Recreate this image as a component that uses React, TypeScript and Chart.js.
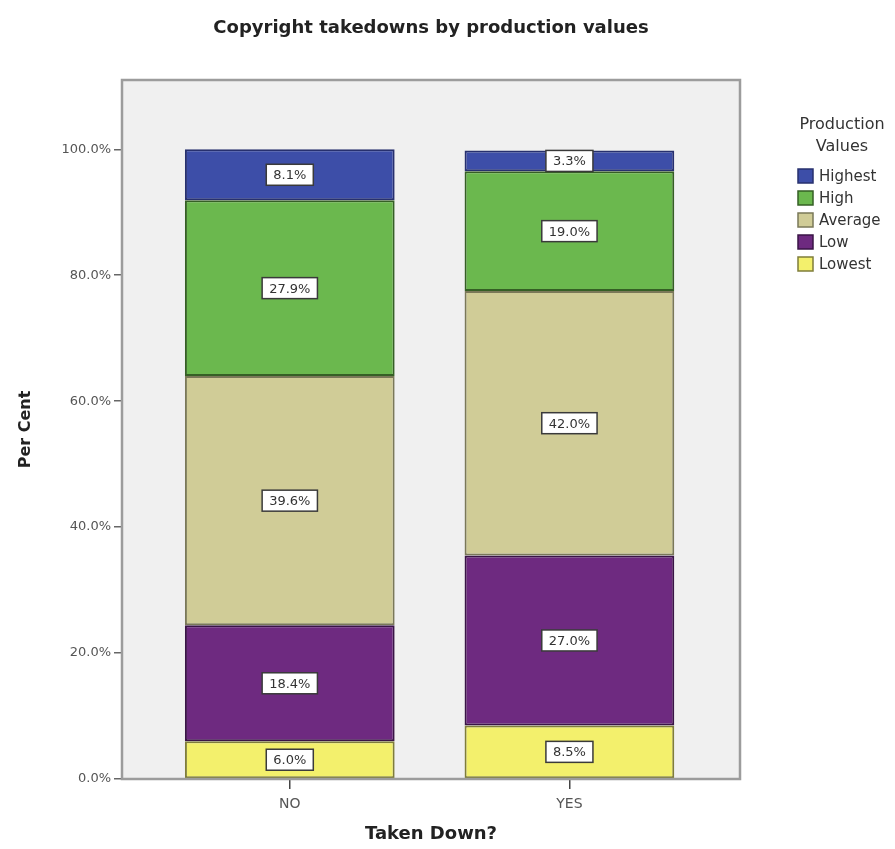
import React, { useEffect, useRef } from "react";
import { Chart, registerables } from "chart.js";

Chart.register(...registerables);

const categories = ["NO", "YES"];
const seriesNames = ["Lowest", "Low", "Average", "High", "Highest"];
const lowest = [6.0, 8.5];
const low = [18.4, 27.0];
const average = [39.6, 42.0];
const high = [27.9, 19.0];
const highest = [8.1, 3.3];
const yTicks = [0, 20, 40, 60, 80, 100];

const seriesValues = [lowest, low, average, high, highest];
const fills = ["#f3f06c", "#6e2a80", "#d0cc97", "#6bb84e", "#3d4ea8"];
const edges = ["#7f7d3a", "#3a1446", "#7a7858", "#355f25", "#27306e"];

const FONT = "'DejaVu Sans', Verdana, sans-serif";

const decorPlugin = {
  id: "decor",
  beforeDatasetsDraw(chart: any) {
    const { ctx, chartArea: a } = chart;
    ctx.save();
    ctx.fillStyle = "#f0f0f0";
    ctx.fillRect(a.left, a.top, a.right - a.left, a.bottom - a.top);
    ctx.restore();
  },
  afterDatasetsDraw(chart: any) {
    const { ctx, chartArea: a } = chart;
    ctx.save();
    ctx.strokeStyle = "#9c9c9c";
    ctx.lineWidth = 2.5;
    ctx.strokeRect(a.left, a.top, a.right - a.left, a.bottom - a.top);
    ctx.font = `13px ${FONT}`;
    ctx.textAlign = "center";
    ctx.textBaseline = "middle";
    chart.data.datasets.forEach((ds: any, di: number) => {
      const meta = chart.getDatasetMeta(di);
      meta.data.forEach((bar: any, i: number) => {
        const v = ds.data[i].y;
        const txt = v.toFixed(1) + "%";
        const cx = bar.x;
        const cy = (bar.y + bar.base) / 2;
        const w = ctx.measureText(txt).width + 14;
        const h = 21;
        ctx.fillStyle = "#ffffff";
        ctx.fillRect(cx - w / 2, cy - h / 2, w, h);
        ctx.strokeStyle = "#3a3a3a";
        ctx.lineWidth = 1.5;
        ctx.strokeRect(cx - w / 2, cy - h / 2, w, h);
        ctx.fillStyle = "#333333";
        ctx.fillText(txt, cx, cy + 1);
      });
    });
    ctx.restore();
  },
  afterDraw(chart: any) {
    const { ctx, chartArea: a } = chart;
    ctx.save();
    ctx.fillStyle = "#222";
    ctx.font = `bold 18px ${FONT}`;
    ctx.textAlign = "center";
    ctx.textBaseline = "middle";
    ctx.fillText("Copyright takedowns by production values", (a.left + a.right) / 2, 20);
    ctx.fillStyle = "#333";
    ctx.font = `16px ${FONT}`;
    ctx.fillText("Production", 834, 117);
    ctx.fillText("Values", 834, 139);
    ctx.font = `15px ${FONT}`;
    ctx.textAlign = "left";
    const order = [4, 3, 2, 1, 0];
    order.forEach((di, k) => {
      const y = 168 + k * 22;
      ctx.fillStyle = fills[di];
      ctx.fillRect(790, y - 7, 15, 14);
      ctx.strokeStyle = edges[di];
      ctx.lineWidth = 1.5;
      ctx.strokeRect(790, y - 7, 15, 14);
      ctx.fillStyle = "#333";
      ctx.fillText(seriesNames[di], 811, y + 1);
    });
    ctx.restore();
  },
};

export default function App() {
  const ref = useRef<HTMLCanvasElement>(null);
  useEffect(() => {
    if (!ref.current) return;
    const chart = new Chart(ref.current, {
      type: "bar",
      data: {
        datasets: seriesNames.map((name, di) => ({
          label: name,
          data: seriesValues[di].map((v, i) => ({ x: i, y: v })),
          backgroundColor: fills[di],
          borderColor: edges[di],
          borderWidth: 2,
          borderSkipped: false,
          barPercentage: 0.75,
          categoryPercentage: 1,
          grouped: false,
          stack: "all",
        })),
      },
      options: {
        responsive: true,
        maintainAspectRatio: false,
        animation: false,
        layout: { padding: { left: 0, right: 147, top: 72, bottom: 0 } },
        plugins: {
          legend: { display: false },
          title: { display: false },
          tooltip: { enabled: false },
        },
        scales: {
          x: {
            type: "linear",
            stacked: true,
            offset: false,
            min: -0.6,
            max: 1.61,
            afterBuildTicks: (s: any) => {
              s.ticks = categories.map((_, i) => ({ value: i }));
            },
            afterFit: (s: any) => {
              s.height = 70;
            },
            ticks: {
              callback: (v: any) => categories[v] ?? "",
              font: { family: FONT, size: 14 },
              color: "#555",
              padding: 7,
            },
            grid: {
              offset: false,
              drawOnChartArea: false,
              drawTicks: true,
              tickLength: 10,
              color: "#444",
              lineWidth: 1.5,
            },
            border: { display: false },
            title: {
              display: true,
              text: "Taken Down?",
              font: { family: FONT, size: 18, weight: "bold" },
              color: "#222",
              padding: { top: 0, bottom: 4 },
            },
          },
          y: {
            stacked: true,
            min: 0,
            max: 111,
            afterBuildTicks: (s: any) => {
              s.ticks = yTicks.map((v) => ({ value: v }));
            },
            afterFit: (s: any) => {
              s.width = 114;
            },
            ticks: {
              callback: (v: any) => Number(v).toFixed(1) + "%",
              font: { family: FONT, size: 13 },
              color: "#555",
              padding: 3,
            },
            grid: {
              drawOnChartArea: false,
              drawTicks: true,
              tickLength: 8,
              color: "#666",
              lineWidth: 1.5,
            },
            border: { display: false },
            title: {
              display: true,
              text: "Per Cent",
              font: { family: FONT, size: 16, weight: "bold" },
              color: "#222",
              padding: { top: 8, bottom: 0 },
            },
          },
        },
      },
      plugins: [decorPlugin],
    });
    return () => chart.destroy();
  }, []);
  return (
    <div style={{ width: 879, height: 841, position: "relative", marginBottom: -8 }}>
      <canvas ref={ref} />
    </div>
  );
}
